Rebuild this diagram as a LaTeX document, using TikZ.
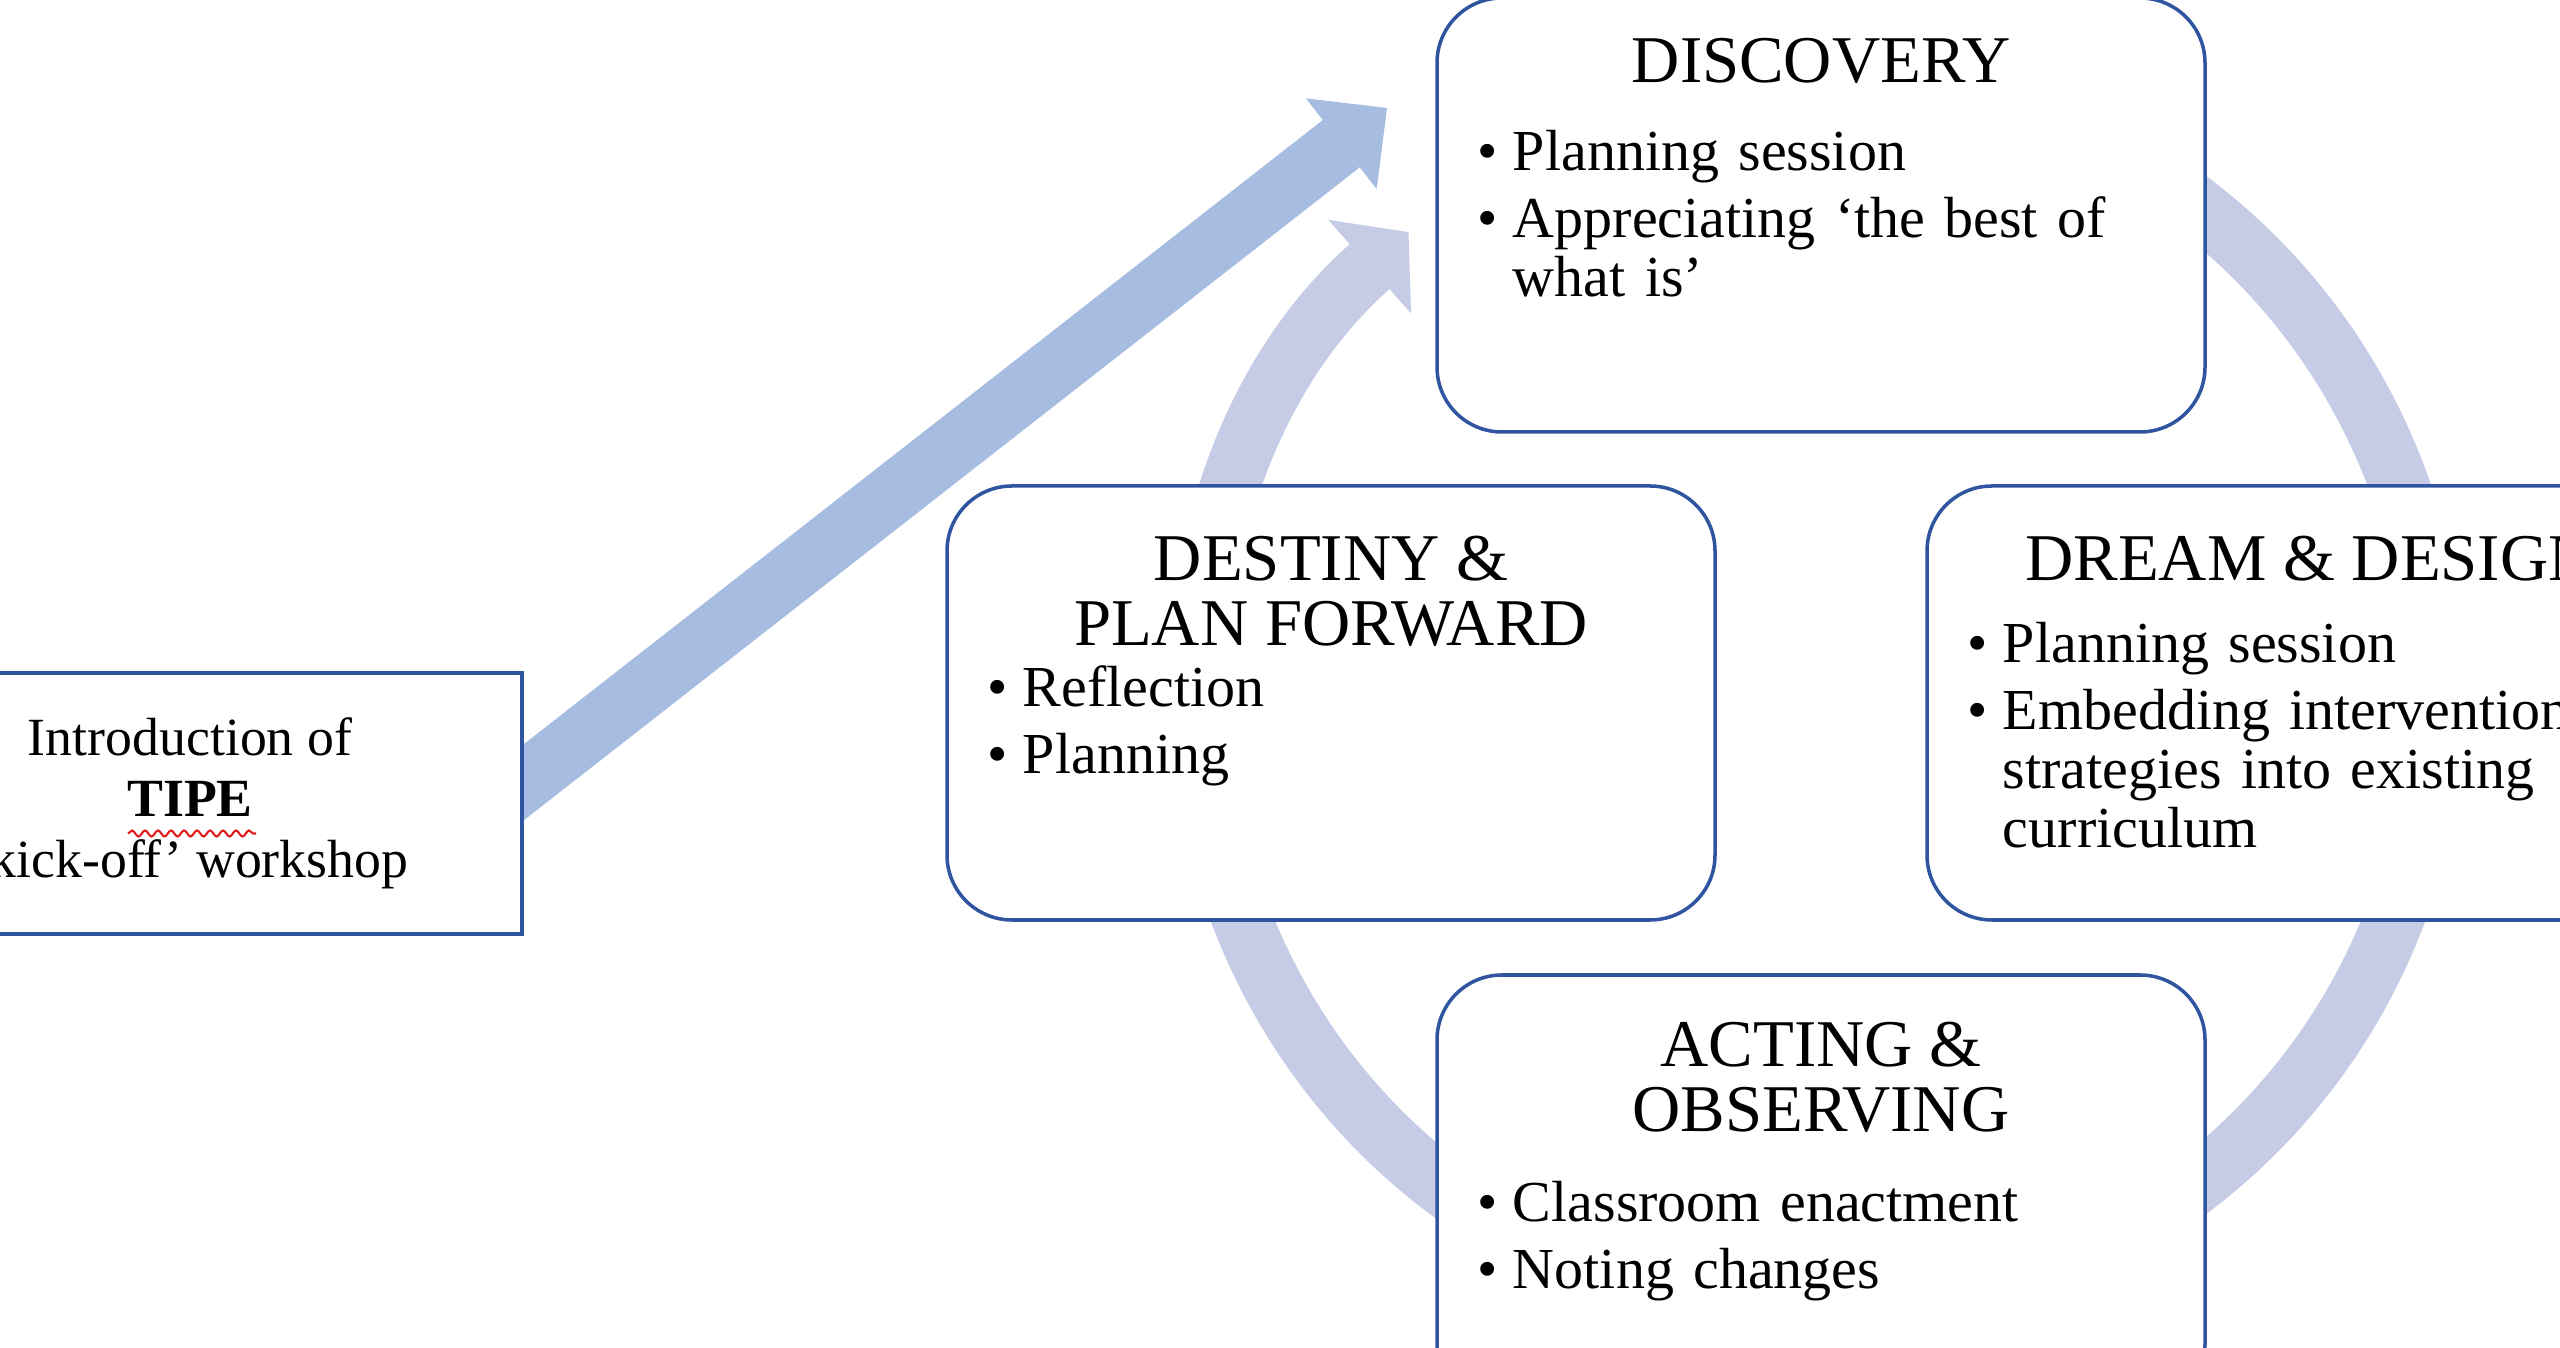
\documentclass[tikz,border=0pt]{standalone}
\usepackage{fontspec}
\setmainfont{Liberation Serif}
\usetikzlibrary{arrows.meta,backgrounds,decorations.pathmorphing}
\definecolor{boxblue}{RGB}{47,84,160}
\definecolor{pushblue}{RGB}{167,188,225}
\definecolor{ringblue}{RGB}{199,204,230}
\definecolor{spellred}{RGB}{225,30,30}
\newcommand\phaseitem[1]{\hangindent=3.5mm\hangafter=1\noindent\makebox[3.5mm][l]{\textbullet}#1\par}

\begin{document}
\begin{tikzpicture}[phase/.style={draw=boxblue,line width=1pt,fill=white,rounded corners=6.5mm,
  minimum width=7.68cm,minimum height=4.34cm},
 phasehead/.style={anchor=base,align=center,inner sep=0pt,font=\fontsize{19}{18.5}\selectfont},
 phaselist/.style={anchor=base west,align=left,text width=6.9cm,inner sep=0pt,
  font=\fontsize{16.5}{16.8}\selectfont\setlength{\parskip}{2.4pt}},
 push/.style={line width=6mm,draw=pushblue,-{Triangle[length=5.8mm,width=11.5mm,line width=0pt]}},
 ring/.style={line width=6mm,draw=ringblue,-{Triangle[length=5.2mm,width=12.5mm,line width=0pt]}}]

 \useasboundingbox (0,0) rectangle (25.6,13.48);
 \coordinate (hub) at (18.18,6.53);
 \coordinate (pushtip) at (13.87,12.40);

 % the four phases of the cycle
 \node[phase] (disc) at (18.21,11.33) {};
 \node[phase] (dest) at (13.31,6.45) {};
 \node[phase] (dream) at (23.11,6.45) {};
 \node[phase] (act) at (18.21,1.56) {};

 \node[phasehead] (discT) at ([yshift=-0.86cm]disc.north) {DISCOVERY};
 \node[phasehead] (destT) at ([yshift=-1.61cm]dest.north) {DESTINY \&\\PLAN FORWARD};
 \node[phasehead] (dreamT) at ([yshift=-0.96cm]dream.north) {DREAM \& DESIGN};
 \node[phasehead] (actT) at ([yshift=-1.58cm]act.north) {ACTING \&\\OBSERVING};

 \node[phaselist] (discL) at ([shift={(0.42,-1.74)}]disc.north west)
  {\phaseitem{Planning session}\phaseitem{Appreciating ‘the best of\newline what is’}};
 \node[phaselist] (destL) at ([shift={(0.42,-2.22)}]dest.north west)
  {\phaseitem{Reflection}\phaseitem{Planning}};
 \node[phaselist] (dreamL) at ([shift={(0.42,-1.78)}]dream.north west)
  {\phaseitem{Planning session}\phaseitem{Embedding intervention\newline strategies into existing\newline curriculum}};
 \node[phaselist] (actL) at ([shift={(0.42,-2.48)}]act.north west)
  {\phaseitem{Classroom enactment}\phaseitem{Noting changes}};

 % the workshop that starts it
 \node[draw=boxblue,line width=1pt,fill=white,minimum width=6.64cm,minimum height=2.61cm,
  align=center,font=\fontsize{15.3}{17.3}\selectfont] (intro) at (1.9,5.445)
  {Introduction of\\\textbf{TIPE}\\‘kick-off’ workshop};
 \draw[spellred,line width=0.6pt,decorate,decoration={snake,segment length=1.3mm,amplitude=0.3mm}]
  ([shift={(-0.62,-0.30)}]intro.center) -- ([shift={(0.66,-0.30)}]intro.center);

 \begin{scope}[on background layer]
  \fill[white] (0,0) rectangle (25.6,13.48);
  \draw[ring] ([shift={(115:6.18)}]hub) arc[start angle=115,end angle=-228.5,radius=6.18];
  \draw[push] ([shift={(-0.4,-0.1)}]intro.east) -- (pushtip);
 \end{scope}
\end{tikzpicture}
\end{document}
